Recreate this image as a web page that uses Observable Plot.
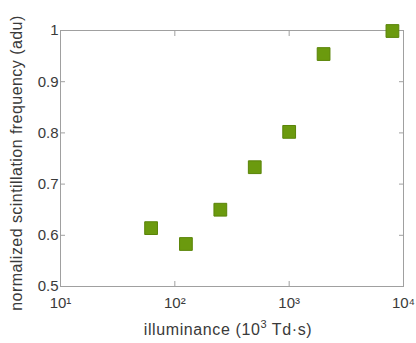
<!DOCTYPE html>
<html>
<head>
<meta charset="utf-8">
<script src="https://cdn.jsdelivr.net/npm/d3@7"></script>
<script src="https://cdn.jsdelivr.net/npm/@observablehq/plot@0.6"></script>
<style>
  html, body { margin: 0; padding: 0; background: #fff; }
  svg { display: block; }
</style>
</head>
<body>
<div id="chart"></div>
<script>
const illuminance = [62, 125, 250, 500, 1000, 2000, 8000];
const frequency = [0.614, 0.583, 0.650, 0.733, 0.802, 0.954, 0.999];
const xTicks = [10, 100, 1000, 10000];
const xTickLabels = ["10¹", "10²", "10³", "10⁴"];
const yTicks = [0.5, 0.6, 0.7, 0.8, 0.9, 1];
const yTickLabels = ["0.5", "0.6", "0.7", "0.8", "0.9", "1"];

const data = illuminance.map((x, i) => ({x, y: frequency[i]}));
const xLabel = new Map(xTicks.map((t, i) => [t, xTickLabels[i]]));
const yLabel = new Map(yTicks.map((t, i) => [t, yTickLabels[i]]));

const chart = Plot.plot({
  width: 416,
  height: 343,
  marginLeft: 60,
  marginRight: 13,
  marginTop: 30,
  marginBottom: 57,
  style: {fontFamily: "Liberation Sans, Arial, sans-serif", fontSize: "15px", color: "#3a3a3a", background: "#fff"},
  x: {type: "log", domain: [10, 10000]},
  y: {domain: [0.5, 1]},
  marks: [
    Plot.frame({stroke: "#a0a0a0"}),
    Plot.axisX({ticks: xTicks, tickFormat: d => xLabel.get(d) ?? "", tickSize: -5, tickPadding: 16, stroke: "#a0a0a0", label: null}),
    Plot.axisX({anchor: "top", ticks: xTicks, tickFormat: () => "", tickSize: -5, stroke: "#a0a0a0", label: null}),
    Plot.axisY({ticks: yTicks, tickFormat: d => yLabel.get(d) ?? "", tickSize: -5, tickPadding: 7, stroke: "#a0a0a0", label: null}),
    Plot.axisY({anchor: "right", ticks: yTicks, tickFormat: () => "", tickSize: -5, stroke: "#a0a0a0", label: null}),
    Plot.dot(data, {x: "x", y: "y", symbol: "square", r: 7.2, fill: "#6b9a0e", stroke: "#5a8408", strokeWidth: 1})
  ]
});

const svg = d3.select(chart);
const xt = svg.append("text")
  .attr("x", 228)
  .attr("y", 335)
  .attr("text-anchor", "middle")
  .attr("font-size", 16)
  .attr("letter-spacing", 0.6)
  .attr("fill", "#3a3a3a");
xt.append("tspan").text("illuminance (10");
xt.append("tspan").attr("dy", -7).attr("font-size", 11).text("3");
xt.append("tspan").attr("dy", 7).text(" Td·s)");

svg.append("text")
  .attr("transform", `translate(22, 163) rotate(-90)`)
  .attr("text-anchor", "middle")
  .attr("font-size", 16)
  .attr("letter-spacing", 0.45)
  .attr("fill", "#3a3a3a")
  .text("normalized scintillation frequency (adu)");

document.getElementById("chart").appendChild(chart);
</script>
</body>
</html>
